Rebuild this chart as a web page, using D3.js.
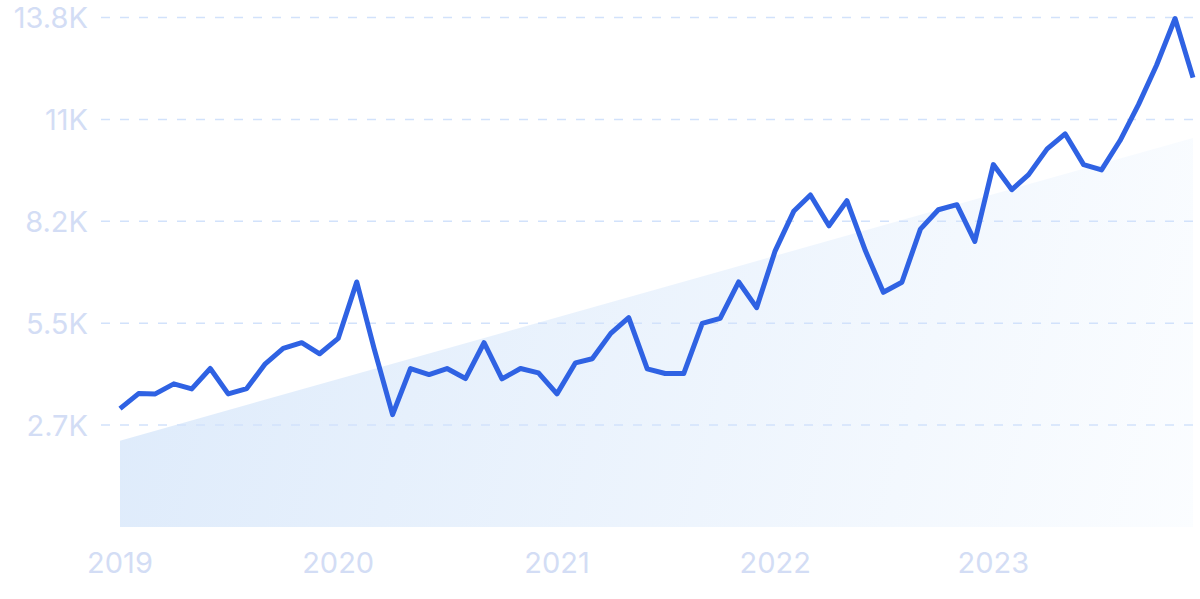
<!DOCTYPE html>
<html>
<head>
<meta charset="utf-8">
<script src="https://cdn.jsdelivr.net/npm/d3@7"></script>
<style>
  html, body { margin: 0; padding: 0; background: #ffffff; }
  svg { display: block; }
  text { font-family: Inter, "Noto Sans", sans-serif; }
</style>
</head>
<body>
<svg id="chart" width="1200" height="599"></svg>
<script>
// Monthly values Jan 2019 – Dec 2023
const startYear = 2019;
const values = [
  3194, 3600, 3592, 3863, 3728, 4277, 3592, 3736, 4404, 4818, 4973, 4675,
  5089, 6613, 4818, 3032, 4277, 4115, 4277, 4006, 4973, 3998, 4277, 4161,
  3592, 4431, 4540, 5225, 5650, 4269, 4142, 4142, 5495, 5631, 6613, 5920,
  7453, 8519, 8960, 8129, 8806, 7453, 6334, 6605, 8040, 8562, 8698, 7707,
  9780, 9104, 9510, 10205, 10611, 9780, 9637, 10430, 11405, 12461, 13724, 12127
];
// Trend (area) at first and last month
const trendValues = [2330, 10500];
const yTicks = [2750, 5500, 8250, 11000, 13750];
const yTickLabels = ["2.7K", "5.5K", "8.2K", "11K", "13.8K"];
const xTickYears = [2019, 2020, 2021, 2022, 2023];

const dates = values.map((v, i) => new Date(startYear, i, 1));
const data = values.map((v, i) => ({ date: dates[i], value: v }));
const trend = [
  { date: dates[0], value: trendValues[0] },
  { date: dates[dates.length - 1], value: trendValues[1] }
];

const svg = d3.select("#chart");

const x = d3.scaleTime()
  .domain([dates[0], dates[dates.length - 1]])
  .range([120, 1193]);
const y = d3.scaleLinear()
  .domain([0, 13750])
  .range([527, 17.5]);

// Gradient for area
const defs = svg.append("defs");
const grad = defs.append("linearGradient")
  .attr("id", "areaGrad")
  .attr("gradientUnits", "userSpaceOnUse")
  .attr("x1", 120).attr("y1", 300)
  .attr("x2", 1193).attr("y2", 560);
grad.append("stop").attr("offset", "0%").attr("stop-color", "#deebfb");
grad.append("stop").attr("offset", "100%").attr("stop-color", "#fbfdff");

// Trend area
const area = d3.area()
  .x(d => x(d.date))
  .y0(y(0))
  .y1(d => y(d.value));
svg.append("path")
  .datum(trend)
  .attr("d", area)
  .attr("fill", "url(#areaGrad)");

// Gridlines (drawn over the area)
const grid = svg.append("g");
grid.selectAll("line")
  .data(yTicks)
  .join("line")
  .attr("x1", 101)
  .attr("x2", 1200)
  .attr("y1", d => y(d))
  .attr("y2", d => y(d))
  .attr("stroke", "#d2e2fb")
  .attr("stroke-width", 1.5)
  .attr("stroke-dasharray", "9,10");

// Y labels
svg.append("g")
  .selectAll("text")
  .data(yTicks)
  .join("text")
  .attr("x", 88)
  .attr("y", d => y(d))
  .attr("dy", "0.36em")
  .attr("text-anchor", "end")
  .attr("font-size", 29)
  .attr("fill", "#d3ddf5")
  .text((d, i) => yTickLabels[i]);

// X labels
svg.append("g")
  .selectAll("text")
  .data(xTickYears)
  .join("text")
  .attr("x", d => x(new Date(d, 0, 1)))
  .attr("y", 573)
  .attr("text-anchor", "middle")
  .attr("font-size", 29)
  .attr("fill", "#d3ddf5")
  .text(d => d);

// Line
const line = d3.line()
  .x(d => x(d.date))
  .y(d => y(d.value));
svg.append("path")
  .datum(data)
  .attr("d", line)
  .attr("fill", "none")
  .attr("stroke", "#2f62e3")
  .attr("stroke-width", 5)
  .attr("stroke-linejoin", "round")
  .attr("stroke-linecap", "butt");
</script>
</body>
</html>
